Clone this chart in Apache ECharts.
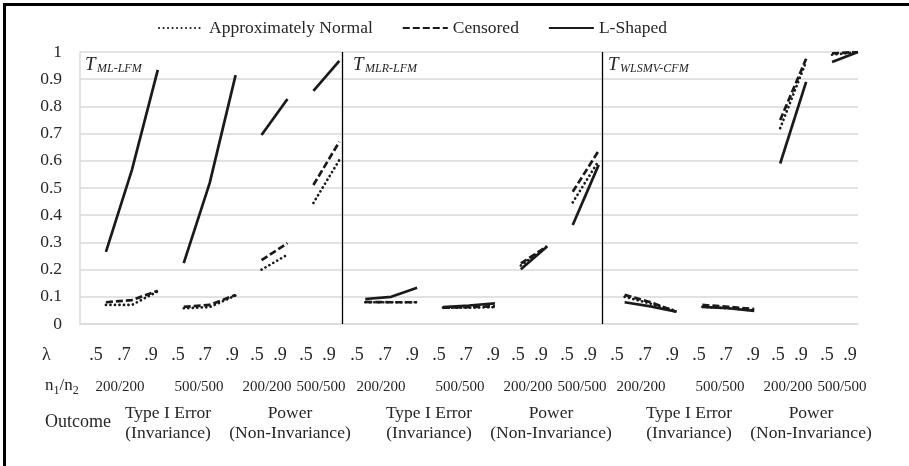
<!DOCTYPE html>
<html>
<head>
<meta charset="utf-8">
<script src="https://cdn.jsdelivr.net/npm/echarts@6/dist/echarts.min.js"></script>
<style>
html, body { margin: 0; padding: 0; background: #fff; }
#chart { width: 909px; height: 466px; }
</style>
</head>
<body>
<div id="chart"></div>
<script>
// 30 x slots, 10 per panel (ML-LFM, MLR-LFM, WLSMV-CFM)
const groups = [
	[1, 2, 3], [4, 5, 6], [7, 8], [9, 10],
	[11, 12, 13], [14, 15, 16], [17, 18], [19, 20],
	[21, 22, 23], [24, 25, 26], [27, 28], [29, 30],
];

const approxNormal = [0.07, 0.07, 0.12, 0.058, 0.062, 0.105, 0.20, 0.255, 0.445, 0.603,
	0.08, 0.08, 0.08, 0.06, 0.06, 0.062, 0.215, 0.285, 0.447, 0.60,
	0.10, 0.075, 0.048, 0.063, 0.058, 0.05, 0.72, 0.965, 0.99, 1.0];
const censored = [0.08, 0.088, 0.122, 0.063, 0.07, 0.107, 0.235, 0.297, 0.511, 0.67,
	0.081, 0.08, 0.08, 0.06, 0.062, 0.065, 0.223, 0.285, 0.486, 0.637,
	0.107, 0.08, 0.045, 0.07, 0.063, 0.055, 0.75, 0.975, 0.995, 1.0];
const lShaped = [0.265, 0.566, 0.934, 0.224, 0.518, 0.915, 0.695, 0.827, 0.857, 0.967,
	0.092, 0.10, 0.133, 0.062, 0.068, 0.076, 0.201, 0.284, 0.364, 0.585,
	0.08, 0.065, 0.045, 0.063, 0.058, 0.048, 0.59, 0.89, 0.963, 1.0];

const panelNames = ['ML-LFM', 'MLR-LFM', 'WLSMV-CFM'];
const lambdaLabels = ['.5', '.7', '.9', '.5', '.7', '.9', '.5', '.9', '.5', '.9'];
const sizeLabels = ['200/200', '500/500', '200/200', '500/500'];
const outcomeLabels = ['Type I Error\n(Invariance)', 'Power\n(Non-Invariance)'];

const SERIF = '"Liberation Serif", "Times New Roman", serif';
const INK = '#262626';

const styles = [
	{ name: 'Approximately Normal', values: approxNormal, type: [0.1, 4.4], cap: 'round' },
	{ name: 'Censored', values: censored, type: [7, 3], cap: 'butt' },
	{ name: 'L-Shaped', values: lShaped, type: 'solid', cap: 'butt' },
];

const series = [];
styles.forEach((s) => {
	groups.forEach((g) => {
		series.push({
			name: s.name,
			type: 'line',
			symbol: 'none',
			silent: true,
			data: g.map((k) => [k, s.values[k - 1]]),
			itemStyle: { color: '#1a1a1a' },
			lineStyle: { color: '#1a1a1a', width: 2.7, type: s.type, cap: s.cap },
		});
	});
});

// panel separators
series.push({
	type: 'line',
	data: [],
	markLine: {
		silent: true,
		symbol: 'none',
		label: { show: false },
		lineStyle: { color: '#000', width: 1.3, type: 'solid' },
		data: [{ xAxis: 10.12 }, { xAxis: 20.12 }],
	},
});

// text below the plot
const lambdaOffsets = [0, 28, 55, 82, 109, 136, 161, 184, 210, 233];
const sizeOffsets = [24, 103, 171, 225];
const outcomeOffsets = [72, 194];
const panelStarts = [96, 357, 617];
const graphics = [];

panelStarts.forEach((px) => {
	lambdaLabels.forEach((t, i) => {
		graphics.push({ type: 'text', x: px + lambdaOffsets[i], y: 355,
			style: { text: t, font: '18px ' + SERIF, fill: INK, align: 'center', verticalAlign: 'middle' } });
	});
	sizeLabels.forEach((t, i) => {
		graphics.push({ type: 'text', x: px + sizeOffsets[i], y: 387,
			style: { text: t, font: '15px ' + SERIF, fill: INK, align: 'center', verticalAlign: 'middle' } });
	});
	outcomeLabels.forEach((t, i) => {
		graphics.push({ type: 'text', x: px + outcomeOffsets[i], y: 423,
			style: { text: t, font: '17.5px ' + SERIF, fill: INK, align: 'center', verticalAlign: 'middle', lineHeight: 20 } });
	});
});

// panel titles
const titleX = [85, 353, 608];
panelNames.forEach((n, i) => {
	graphics.push({ type: 'text', x: titleX[i], y: 55,
		style: { text: 'T', font: 'italic 19px ' + SERIF, fill: INK } });
	graphics.push({ type: 'text', x: titleX[i] + 12, y: 63,
		style: { text: n, font: 'italic 12px ' + SERIF, fill: INK } });
});

// row headers
graphics.push({ type: 'text', x: 42, y: 355,
	style: { text: 'λ', font: '18px ' + SERIF, fill: INK, verticalAlign: 'middle' } });
graphics.push({ type: 'text', x: 45, y: 386,
	style: { text: '{a|n}{b|1}{a|/n}{b|2}', font: '17px ' + SERIF, fill: INK, verticalAlign: 'middle',
		rich: { a: { fontSize: 17, fontFamily: SERIF, color: INK }, b: { fontSize: 12, fontFamily: SERIF, color: INK, padding: [9, 0, 0, 0] } } } });
graphics.push({ type: 'text', x: 45, y: 422,
	style: { text: 'Outcome', font: '18px ' + SERIF, fill: INK, verticalAlign: 'middle' } });

// frame (left and top edges)
graphics.push({ type: 'line', shape: { x1: 4.5, y1: 3, x2: 4.5, y2: 466 }, style: { stroke: '#000', lineWidth: 3 } });
graphics.push({ type: 'line', shape: { x1: 3, y1: 4.5, x2: 909, y2: 4.5 }, style: { stroke: '#000', lineWidth: 3 } });

const chart = echarts.init(document.getElementById('chart'), null, { renderer: 'canvas' });
chart.setOption({
	animation: false,
	backgroundColor: '#fff',
	legend: {
		data: styles.map((s) => s.name),
		left: 153,
		top: 14,
		itemWidth: 45,
		itemHeight: 12,
		itemGap: 29,
		itemStyle: { opacity: 0 },
		textStyle: { fontFamily: SERIF, fontSize: 17.5, color: INK },
	},
	grid: { left: 80, right: 51, top: 52, bottom: 142, containLabel: false },
	xAxis: {
		type: 'value',
		min: 0,
		max: 30,
		axisLabel: { show: false },
		axisTick: { show: false },
		splitLine: { show: false },
		axisLine: { show: true, lineStyle: { color: '#d9d9d9', width: 1.5 } },
	},
	yAxis: {
		type: 'value',
		min: 0,
		max: 1,
		interval: 0.1,
		axisLabel: {
			margin: 18,
			fontFamily: SERIF,
			fontSize: 17.5,
			color: INK,
			formatter: (v) => String(Math.round(v * 10) / 10),
		},
		axisTick: { show: false },
		axisLine: { show: true, lineStyle: { color: '#d9d9d9', width: 1.5 } },
		splitLine: { lineStyle: { color: '#d9d9d9', width: 1.5 } },
	},
	series: series,
	graphic: graphics,
});
</script>
</body>
</html>
